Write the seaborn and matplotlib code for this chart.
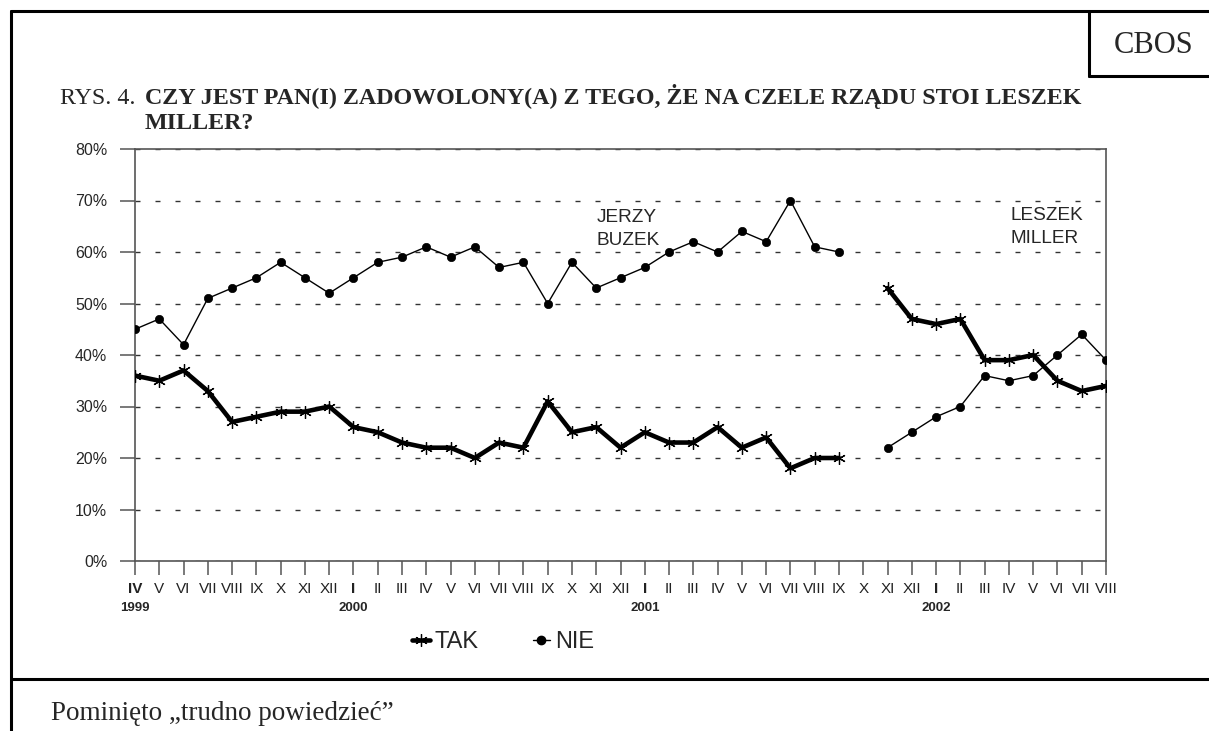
import numpy as np
import pandas as pd
import matplotlib
matplotlib.use("Agg")
import matplotlib.pyplot as plt
import seaborn as sns
from matplotlib.lines import Line2D

# miesiace od IV 1999 do VIII 2002
months = ["IV", "V", "VI", "VII", "VIII", "IX", "X", "XI", "XII",
          "I", "II", "III", "IV", "V", "VI", "VII", "VIII", "IX", "X", "XI", "XII",
          "I", "II", "III", "IV", "V", "VI", "VII", "VIII", "IX", "X", "XI", "XII",
          "I", "II", "III", "IV", "V", "VI", "VII", "VIII"]
years = ["1999", "2000", "2001", "2002"]

tak = [36, 35, 37, 33, 27, 28, 29, 29, 30,
       26, 25, 23, 22, 22, 20, 23, 22, 31, 25, 26, 22,
       25, 23, 23, 26, 22, 24, 18, 20, 20, np.nan, 53, 47,
       46, 47, 39, 39, 40, 35, 33, 34]
nie = [45, 47, 42, 51, 53, 55, 58, 55, 52,
       55, 58, 59, 61, 59, 61, 57, 58, 50, 58, 53, 55,
       57, 60, 62, 60, 64, 62, 70, 61, 60, np.nan, 22, 25,
       28, 30, 36, 35, 36, 40, 44, 39]

title_prefix = "RYS. 4."
title_line1 = "CZY JEST PAN(I) ZADOWOLONY(A) Z TEGO, ŻE NA CZELE RZĄDU STOI LESZEK"
title_line2 = "MILLER?"
footer = "Pominięto „trudno powiedzieć”"


def to_frame(values, name):
    d = pd.DataFrame({"x": np.arange(len(values)), "value": values})
    d["segment"] = d["value"].isna().cumsum()
    d["series"] = name
    return d.dropna()


df_tak = to_frame(tak, "TAK")
df_nie = to_frame(nie, "NIE")

sns.set_style("white")
plt.rcParams["font.family"] = ["Liberation Sans", "DejaVu Sans"]
serif = ["Liberation Serif", "DejaVu Serif"]

W, H = 1209, 731
fig = plt.figure(figsize=(W / 100, H / 100), dpi=100)
ax = fig.add_axes([135 / W, 1 - 561 / H, 971 / W, 412 / H])

sns.lineplot(data=df_nie, x="x", y="value", units="segment", estimator=None,
             color="black", linewidth=1.0, marker="o", markersize=6,
             markeredgecolor="black", markeredgewidth=0.5, ax=ax, zorder=3)
sns.lineplot(data=df_tak, x="x", y="value", units="segment", estimator=None,
             color="black", linewidth=3.3, marker=(6, 2, 0), markersize=9,
             markeredgecolor="black", markeredgewidth=0.9, ax=ax, zorder=4)

ax.set_xlim(0, len(months) - 1)
ax.set_ylim(0, 80)
ax.set_xlabel("")
ax.set_ylabel("")

ax.set_yticks(range(0, 81, 10))
ax.set_yticklabels([f"{v}%" for v in range(0, 81, 10)])
ax.set_xticks(range(len(months)))
ax.set_xticklabels(months)

ax.yaxis.grid(True, linestyle=(0, (3.6, 10.8)), color="#333333", linewidth=1)
ax.xaxis.grid(False)
for s in ax.spines.values():
    s.set_color("#555555")
    s.set_linewidth(1.2)

ax.tick_params(axis="y", direction="out", length=11, width=1.1, color="#555555",
               pad=9, labelsize=11.5, left=True)
ax.tick_params(axis="x", direction="out", length=10, width=1.1, color="#555555",
               pad=5, labelsize=11, labelcolor="#222222", bottom=True)

year_starts = [0] + [i for i, m in enumerate(months) if m == "I"]
labels = ax.get_xticklabels()
for i in year_starts:
    labels[i].set_fontweight("bold")
for i, yr in zip(year_starts, years):
    ax.text(i, -0.114, yr, transform=ax.get_xaxis_transform(), ha="center",
            va="center", fontsize=9.5, fontweight="bold")

ax.text(19.0, 61.4, "JERZY\nBUZEK", fontsize=13.7, ha="left", va="baseline",
        linespacing=1.45)
ax.text(36.05, 61.75, "LESZEK\nMILLER", fontsize=13.7, ha="left", va="baseline",
        linespacing=1.45)

h_tak = Line2D([], [], color="black", lw=3.3, marker=(6, 2, 0), ms=9, mew=0.9)
h_nie = Line2D([], [], color="black", lw=1.0, marker="o", ms=6)
fig.legend([h_tak, h_nie], ["TAK", "NIE"], loc="center",
           bbox_to_anchor=(503 / W, 1 - 642 / H), ncol=2, frameon=False,
           handlelength=0.75, handletextpad=0.2, columnspacing=2.3, fontsize=17)

# ramka strony
lw = 2.2
fig.add_artist(Line2D([11 / W, 1], [1 - 11 / H, 1 - 11 / H], transform=fig.transFigure, color="black", lw=lw))
fig.add_artist(Line2D([11 / W, 11 / W], [0, 1 - 11 / H], transform=fig.transFigure, color="black", lw=lw))
fig.add_artist(Line2D([11 / W, 1], [1 - 679 / H, 1 - 679 / H], transform=fig.transFigure, color="black", lw=lw))
fig.add_artist(Line2D([1089 / W, 1089 / W], [1 - 76 / H, 1 - 11 / H], transform=fig.transFigure, color="black", lw=lw))
fig.add_artist(Line2D([1089 / W, 1], [1 - 76 / H, 1 - 76 / H], transform=fig.transFigure, color="black", lw=lw))

fig.text(1154 / W, 1 - 53 / H, "CBOS", family=serif, fontsize=22, ha="center", va="baseline")
fig.text(60 / W, 1 - 104 / H, title_prefix, family=serif, fontsize=17.3, ha="left", va="baseline")
fig.text(145 / W, 1 - 104 / H, title_line1, family=serif, fontsize=17.3, fontweight="bold",
         ha="left", va="baseline")
fig.text(145 / W, 1 - 129 / H, title_line2, family=serif, fontsize=17.3, fontweight="bold",
         ha="left", va="baseline")
fig.text(51 / W, 1 - 720 / H, footer, family=serif, fontsize=19.5, ha="left", va="baseline")

fig.savefig("out.png", dpi=100)
